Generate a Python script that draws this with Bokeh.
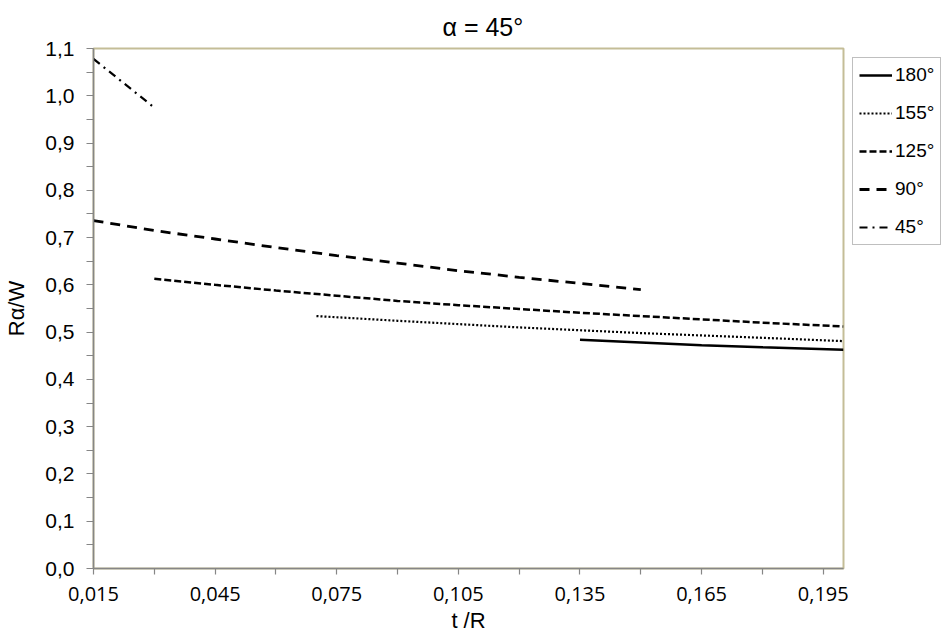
from bokeh.plotting import figure
from bokeh.models import Range1d, FixedTicker, Legend, LegendItem
from bokeh.embed import file_html
from bokeh.resources import INLINE

# ---- data ----
t_180 = [0.135, 0.15, 0.165, 0.18, 0.2]
v_180 = [0.484, 0.478, 0.472, 0.468, 0.463]

t_155 = [0.07, 0.09, 0.105, 0.12, 0.135, 0.15, 0.165, 0.18, 0.2]
v_155 = [0.534, 0.524, 0.517, 0.510, 0.504, 0.498, 0.493, 0.488, 0.481]

t_125 = [0.03, 0.045, 0.06, 0.075, 0.09, 0.105, 0.12, 0.135, 0.15, 0.165, 0.18, 0.2]
v_125 = [0.613, 0.600, 0.588, 0.577, 0.566, 0.557, 0.549, 0.541, 0.534, 0.527, 0.520, 0.512]

t_90 = [0.015, 0.03, 0.045, 0.06, 0.075, 0.09, 0.105, 0.12, 0.135, 0.15]
v_90 = [0.736, 0.715, 0.697, 0.679, 0.662, 0.646, 0.630, 0.616, 0.603, 0.590]

t_45 = [0.015, 0.03]
v_45 = [1.078, 0.975]

series_names = ["180°", "155°", "125°", "90°", "45°"]

x_ticks = [0.015, 0.045, 0.075, 0.105, 0.135, 0.165, 0.195]
x_tick_labels = ["0,015", "0,045", "0,075", "0,105", "0,135", "0,165", "0,195"]
x_minor = [0.03, 0.06, 0.09, 0.12, 0.15, 0.18]

y_ticks = [0.0, 0.1, 0.2, 0.3, 0.4, 0.5, 0.6, 0.7, 0.8, 0.9, 1.0, 1.1]
y_tick_labels = ["0,0", "0,1", "0,2", "0,3", "0,4", "0,5", "0,6", "0,7", "0,8", "0,9", "1,0", "1,1"]
y_minor = [0.05, 0.15, 0.25, 0.35, 0.45, 0.55, 0.65, 0.75, 0.85, 0.95, 1.05]

# ---- figure ----
p = figure(frame_width=750, frame_height=520,
           x_range=Range1d(0.015, 0.2), y_range=Range1d(0.0, 1.1),
           output_backend="svg", toolbar_location=None,
           min_border_left=93, min_border_right=0,
           min_border_top=48, min_border_bottom=72,
           title="α = 45°")

p.title.align = "left"
p.title.offset = 349
p.title.standoff = 15
p.title.text_font = "Liberation Sans"
p.title.text_font_size = "25px"
p.title.text_font_style = "normal"
p.title.text_color = "black"

p.background_fill_color = "white"
p.border_fill_color = "white"
p.outline_line_color = "#c4bd97"
p.outline_line_width = 2
p.xgrid.visible = False
p.ygrid.visible = False

axis_gray = "#868686"

p.xaxis.ticker = FixedTicker(ticks=x_ticks, minor_ticks=x_minor)
p.xaxis.major_label_overrides = dict(zip(x_ticks, x_tick_labels))
p.yaxis.ticker = FixedTicker(ticks=y_ticks, minor_ticks=y_minor)
p.yaxis.major_label_overrides = dict(zip(y_ticks, y_tick_labels))

for ax in (p.xaxis[0], p.yaxis[0]):
    ax.axis_line_color = axis_gray
    ax.axis_line_width = 1.5
    ax.major_tick_line_color = axis_gray
    ax.minor_tick_line_color = axis_gray
    ax.major_tick_line_width = 1.2
    ax.minor_tick_line_width = 1.2
    ax.major_tick_in = 0
    ax.minor_tick_in = 0
    ax.major_label_text_color = "black"
    ax.axis_label_text_color = "black"
    ax.axis_label_text_font_style = "normal"

p.xaxis.major_tick_out = 6
p.xaxis.minor_tick_out = 6
p.yaxis.major_tick_out = 7
p.yaxis.minor_tick_out = 7

p.xaxis.major_label_text_font = "Open Sans"
p.xaxis.major_label_text_font_size = "20px"
p.xaxis.major_label_standoff = 12
p.yaxis.major_label_text_font = "Liberation Sans"
p.yaxis.major_label_text_font_size = "21px"
p.yaxis.major_label_standoff = 12

p.xaxis.axis_label = "t /R"
p.xaxis.axis_label_text_font = "Liberation Sans"
p.xaxis.axis_label_text_font_size = "22px"
p.xaxis.axis_label_standoff = 4
p.yaxis.axis_label = "Rα/W"
p.yaxis.axis_label_text_font = "Liberation Sans"
p.yaxis.axis_label_text_font_size = "22px"
p.yaxis.axis_label_standoff = 13

r180 = p.line(t_180, v_180, line_color="black", line_width=2.5)
r155 = p.line(t_155, v_155, line_color="black", line_width=2.2, line_dash="2 2")
r125 = p.line(t_125, v_125, line_color="black", line_width=2.5, line_dash="7 3")
r90 = p.line(t_90, v_90, line_color="black", line_width=2.8, line_dash="10 7")
r45 = p.line(t_45, v_45, line_color="black", line_width=2.2, line_dash="8 5 2 5")

renderers = [r180, r155, r125, r90, r45]
legend = Legend(items=[LegendItem(label=n, renderers=[r]) for n, r in zip(series_names, renderers)],
                location="top_left")
legend.border_line_color = "#808080"
legend.border_line_width = 1.2
legend.background_fill_color = "white"
legend.background_fill_alpha = 1.0
legend.label_text_font = "Liberation Sans"
legend.label_text_font_size = "19px"
legend.label_text_color = "black"
legend.glyph_width = 33
legend.glyph_height = 20
legend.label_height = 20
legend.label_standoff = 3
legend.spacing = 16
legend.padding = 6
legend.margin = 9
p.add_layout(legend, "right")

open("out.html", "w").write(file_html(p, INLINE))
